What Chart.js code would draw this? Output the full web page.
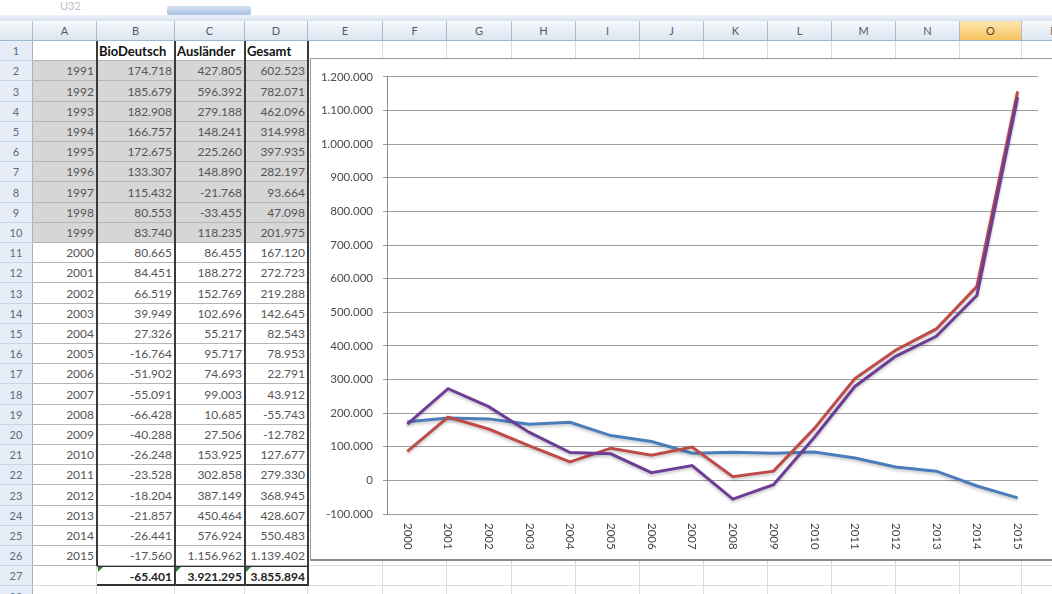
<!DOCTYPE html>
<html>
<head>
<meta charset="utf-8">
<script src="https://cdn.jsdelivr.net/npm/chart.js@4/dist/chart.umd.min.js"></script>
<style>
  body { margin: 0; width: 1052px; height: 594px; overflow: hidden; background: #fff; position: relative;
         font-family: Lato, "Liberation Sans", sans-serif; }
  .c { position: absolute; box-sizing: border-box; white-space: nowrap; overflow: hidden; }
  .grid { border-right: 1px solid #dadcdd; border-bottom: 1px solid #dadcdd; }
  .colhead { background: linear-gradient(#f7f9fc, #dce5f0); border-right: 1px solid #a9bdd5; border-bottom: 1px solid #9eb6ce;
             color: #4c5a6e; font-size: 11px; text-align: center; line-height: 20px; }
  .colhead.sel { background: linear-gradient(#fde7ae, #f7c35f); color: #5a4a2a; }
  .rowhead { background: #e6edf7; border-right: 1px solid #9eb6ce; border-bottom: 1px solid #c6d4e6;
             color: #5b6b80; font-size: 11px; text-align: center; }
  .cell { font-size: 12px; color: #555; text-align: right; padding-right: 3px; }
  .hdr { font-weight: bold; font-size: 13px; color: #111; text-align: left; padding-left: 2px; }
  .tot { font-weight: bold; color: #222; }
  .tri { position: absolute; width: 0; height: 0; border-top: 5px solid #2f7d32; border-right: 5px solid transparent; }
  #chartBox { position: absolute; left: 310px; top: 58px; width: 760px; height: 503px; background: #fff;
              border: 1px solid #9a9a9a; border-bottom: 2px solid #8c8c8c; box-sizing: border-box; }
  #chartWrap { position: absolute; left: 312px; top: 60px; width: 740px; height: 500px; }
</style>
</head>
<body>
<div id="sheet"></div>
<div id="chartBox"></div>
<div id="chartWrap"><canvas id="saldoChart"></canvas></div>

<script>
// Table data (A2:D26)
const years = [1991, 1992, 1993, 1994, 1995, 1996, 1997, 1998, 1999, 2000, 2001, 2002, 2003,
  2004, 2005, 2006, 2007, 2008, 2009, 2010, 2011, 2012, 2013, 2014, 2015];
const bioDeutsch = [174718, 185679, 182908, 166757, 172675, 133307, 115432, 80553, 83740, 80665,
  84451, 66519, 39949, 27326, -16764, -51902, -55091, -66428, -40288, -26248, -23528, -18204,
  -21857, -26441, -17560];
const auslaender = [427805, 596392, 279188, 148241, 225260, 148890, -21768, -33455, 118235, 86455,
  188272, 152769, 102696, 55217, 95717, 74693, 99003, 10685, 27506, 153925, 302858, 387149,
  450464, 576924, 1156962];
const gesamt = [602523, 782071, 462096, 314998, 397935, 282197, 93664, 47098, 201975, 167120,
  272723, 219288, 142645, 82543, 78953, 22791, 43912, -55743, -12782, 127677, 279330, 368945,
  428607, 550483, 1139402];
const totals = [-65401, 3921295, 3855894];
const headers = ['BioDeutsch', 'Ausländer', 'Gesamt'];

// Chart data
const chartLabels = ['2000', '2001', '2002', '2003', '2004', '2005', '2006', '2007',
  '2008', '2009', '2010', '2011', '2012', '2013', '2014', '2015'];
// the sheet's chart takes B2:B17 for the blue line, C11:C26 and D11:D26 for the others
const blueSeries = bioDeutsch.slice(0, 16);
const redSeries = auslaender.slice(9);
const purpleSeries = gesamt.slice(9);
const yTicks = { min: -100000, max: 1200000, step: 100000 };

// German number format: 1.234.567
function fmt(v) {
  const s = String(Math.abs(v)).replace(/\B(?=(\d{3})+(?!\d))/g, '.');
  return (v < 0 ? '-' : '') + s;
}

// ---- spreadsheet layout ----
const colEdges = [0, 33, 97, 175, 245, 308, 383, 447, 512, 576, 640, 704, 768, 832, 896, 960, 1022, 1086];
const colNames = ['', 'A', 'B', 'C', 'D', 'E', 'F', 'G', 'H', 'I', 'J', 'K', 'L', 'M', 'N', 'O', 'P'];
const headTop = 21, rowH = 20.2;
const rowTop = r => Math.round(headTop + 20 + (r - 1) * rowH);
const sheet = document.getElementById('sheet');

function box(cls, x, y, w, h, text) {
  const d = document.createElement('div');
  d.className = 'c ' + cls;
  d.style.left = x + 'px'; d.style.top = y + 'px';
  d.style.width = w + 'px'; d.style.height = h + 'px';
  if (text !== undefined) { d.textContent = text; d.style.lineHeight = h + 'px'; }
  sheet.appendChild(d);
  return d;
}

// top strip (formula bar remains)
box('', 0, 0, 1052, 15).style.background = '#fff';
const nb = box('', 60, 0, 40, 12, 'U32');
nb.style.color = '#b8bec8'; nb.style.fontSize = '11px';
const fb = box('', 167, 6, 84, 9);
fb.style.background = 'linear-gradient(#d6e2f2, #a8c0e0)'; fb.style.borderRadius = '2px';
const strip = box('', 0, 15, 1052, 6);
strip.style.background = 'linear-gradient(#eef3fa, #d7e2f0)';

// column headers
for (let i = 0; i < colNames.length; i++) {
  const w = colEdges[i + 1] - colEdges[i];
  const h = box('colhead' + (colNames[i] === 'O' ? ' sel' : ''), colEdges[i], headTop, w, 20, colNames[i]);
  if (i === 0) h.textContent = '';
}

// row headers + empty sheet grid
for (let r = 1; r <= 28; r++) {
  const y = rowTop(r), h = rowTop(r + 1) - y;
  box('rowhead', 0, y, 33, h, String(r));
  for (let i = 1; i < colNames.length; i++) {
    box('grid', colEdges[i], y, colEdges[i + 1] - colEdges[i], h);
  }
}

// table A1:D27
function tableCell(col, r, text, extra) {
  const y = rowTop(r), h = rowTop(r + 1) - y;
  const d = box('cell ' + (extra || ''), colEdges[col], y, colEdges[col + 1] - colEdges[col], h, text);
  d.style.borderBottom = '1px solid #b4b4b4';
  if (r >= 2 && r <= 10) d.style.background = '#d6d6d6';
  return d;
}
tableCell(1, 1, '');
headers.forEach((t, k) => tableCell(2 + k, 1, t, 'hdr'));
years.forEach((yr, k) => {
  const r = k + 2;
  tableCell(1, r, String(yr));
  tableCell(2, r, fmt(bioDeutsch[k]));
  tableCell(3, r, fmt(auslaender[k]));
  tableCell(4, r, fmt(gesamt[k]));
});
totals.forEach((v, k) => {
  const d = tableCell(2 + k, 27, fmt(v), 'tot');
  d.style.borderBottom = '2px solid #333';
  d.style.borderTop = '1px solid #333';
  const t = document.createElement('div');
  t.className = 'tri';
  t.style.left = colEdges[2 + k] + 1 + 'px'; t.style.top = rowTop(27) + 1 + 'px';
  sheet.appendChild(t);
});
// dark vertical borders of the table
[97, 175, 245, 308].forEach((x, k) => {
  const top = rowTop(1);
  const bottom = k === 0 ? rowTop(27) : rowTop(28);
  const v = box('', x - 1, top, 2, bottom - top);
  v.style.background = '#3a3a3a';
});

// ---- chart ----
const xLabelPlugin = {
  id: 'xLabels',
  afterDraw(chart) {
    const xs = chart.scales.x;
    const ctx = chart.ctx;
    ctx.save();
    ctx.font = '11.5px Lato, "Liberation Sans", sans-serif';
    ctx.fillStyle = '#444';
    ctx.textAlign = 'left';
    ctx.textBaseline = 'middle';
    chart.data.labels.forEach((lab, i) => {
      ctx.save();
      ctx.translate(xs.getPixelForTick(i), xs.top + 9);
      ctx.rotate(Math.PI / 2);
      ctx.fillText(lab, 0, 0);
      ctx.restore();
    });
    ctx.restore();
  }
};

const shadowPlugin = {
  id: 'lineShadow',
  beforeDatasetDraw(chart) {
    const ctx = chart.ctx;
    ctx.save();
    ctx.shadowColor = 'rgba(0, 0, 0, 0.22)';
    ctx.shadowBlur = 3;
    ctx.shadowOffsetY = 2;
  },
  afterDatasetDraw(chart) {
    chart.ctx.restore();
  }
};

const ctx = document.getElementById('saldoChart').getContext('2d');
new Chart(ctx, {
  type: 'line',
  data: {
    labels: chartLabels,
    datasets: [
      { label: 'BioDeutsch', data: blueSeries, borderColor: '#4a7ebb', order: 3 },
      { label: 'Ausländer', data: redSeries, borderColor: '#be4b48', order: 2 },
      { label: 'Gesamt', data: purpleSeries, borderColor: '#6e3d96', order: 1 }
    ]
  },
  options: {
    responsive: true,
    maintainAspectRatio: false,
    animation: false,
    layout: { padding: { top: 13, right: 14, left: 0, bottom: 0 } },
    elements: {
      line: { borderWidth: 3, tension: 0, fill: false },
      point: { radius: 0, hoverRadius: 0 }
    },
    plugins: { legend: { display: false }, tooltip: { enabled: false } },
    scales: {
      x: {
        offset: true,
        grid: { display: false },
        border: { display: false },
        ticks: { display: false },
        afterFit: s => { s.height = 46; }
      },
      y: {
        min: yTicks.min,
        max: yTicks.max,
        ticks: {
          stepSize: yTicks.step,
          callback: v => fmt(v),
          color: '#4a4a4a',
          padding: 10,
          font: { family: 'Lato, "Liberation Sans", sans-serif', size: 11.5 }
        },
        grid: { color: '#9c9c9c', lineWidth: 1, tickLength: 4 },
        border: { display: true, color: '#8c8c8c' },
        afterFit: s => { s.width = 75; }
      }
    }
  },
  plugins: [xLabelPlugin, shadowPlugin]
});
</script>
</body>
</html>
